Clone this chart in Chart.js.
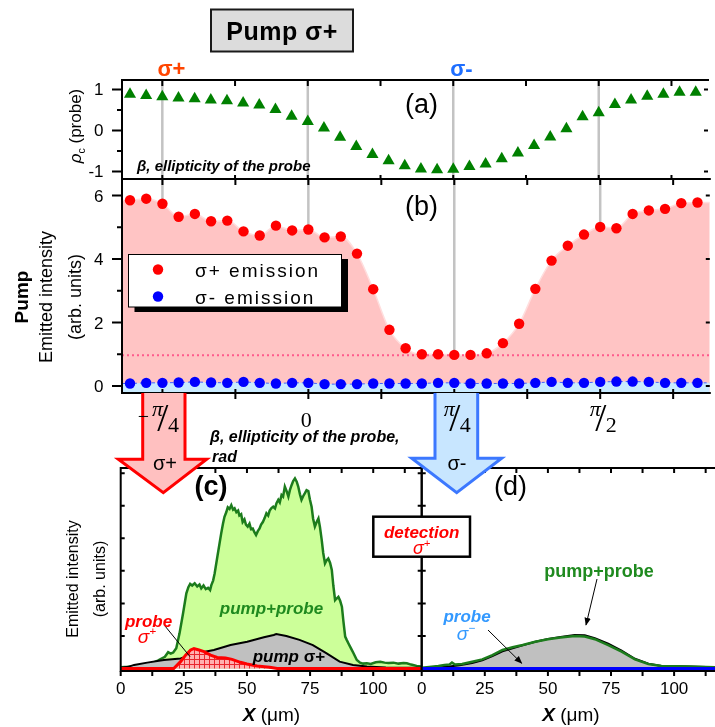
<!DOCTYPE html>
<html>
<head>
<meta charset="utf-8">
<title>Pump σ+</title>
<script src="https://cdn.jsdelivr.net/npm/chart.js@4.4.1/dist/chart.umd.min.js"></script>
<style>
  body { margin: 0; background: #fff; }
  #page { position: relative; width: 715px; height: 727px; overflow: hidden; background: #fff;
    font-family: "Liberation Sans", Arial, sans-serif; color: #000; }
  #page canvas { position: absolute; left: 0; top: 0; }
  #deco { position: absolute; left: 0; top: 0; }
  .t { position: absolute; white-space: nowrap; line-height: 1; transform: translate(-50%, -50%); }
  sup, sub { font-size: 0.62em; line-height: 0; }
</style>
</head>
<body>
<div id="page">
  <canvas id="panel-a" width="715" height="727"></canvas>
  <canvas id="panel-b" width="715" height="727"></canvas>
  <canvas id="panel-c" width="715" height="727"></canvas>
  <canvas id="panel-d" width="715" height="727"></canvas>
  <div id="under"></div>
  <svg id="deco" width="715" height="727"></svg>
  <div id="over"></div>
</div>
<script>
"use strict"

// data

// beta, ellipticity of the probe, in degrees (pi/4 = 45)
const beta = [-55, -50, -45, -40, -35, -30, -25, -20, -15, -10, -5, 0, 5, 10, 15, 20, 25, 30,
  35, 40, 45, 50, 55, 60, 65, 70, 75, 80, 85, 90, 95, 100, 105, 110, 115, 120]

// (a) circular polarisation of the probe
const rhoC = [0.88, 0.85, 0.82, 0.79, 0.77, 0.74, 0.72, 0.67, 0.62, 0.51, 0.345, 0.22, 0.06,
  -0.17, -0.39, -0.59, -0.74, -0.86, -0.94, -0.96, -0.95, -0.88, -0.82, -0.69, -0.55, -0.37,
  -0.16, 0.04, 0.33, 0.43, 0.63, 0.74, 0.83, 0.88, 0.93, 0.93]

// (b) emitted intensity under sigma+ pump
const sigmaPlus = [5.85, 5.9, 5.74, 5.33, 5.42, 5.19, 5.21, 4.87, 4.74, 5.05, 4.9, 4.93, 4.68,
  4.71, 4.17, 3.05, 1.77, 1.19, 1.0, 1.0, 0.98, 0.98, 1.03, 1.35, 1.96, 3.06, 3.95, 4.42, 4.77,
  5.01, 4.97, 5.42, 5.53, 5.58, 5.76, 5.78]
const sigmaMinus = [0.08, 0.1, 0.1, 0.11, 0.13, 0.11, 0.1, 0.13, 0.1, 0.08, 0.1, 0.1, 0.06, 0.06,
  0.06, 0.08, 0.08, 0.08, 0.08, 0.1, 0.1, 0.08, 0.08, 0.08, 0.08, 0.1, 0.13, 0.1, 0.1, 0.13, 0.14,
  0.14, 0.13, 0.1, 0.1, 0.1]
const pumpOnlyLevel = 0.97

// (c) sigma+ detection, [X in um, intensity]
const pumpProbeC = [[0, 0.04], [3, 0.05], [6, 0.07], [9, 0.1], [11, 0.14], [13, 0.18], [14.9, 0.25],
  [16, 0.3], [17.5, 0.36], [18.8, 0.5], [19.8, 0.46], [20.8, 0.49], [22, 0.62], [23.3, 1.08],
  [24.7, 1.7], [26, 2.31], [26.8, 2.5], [27.5, 2.6], [28.3, 2.55], [29.3, 2.62], [30.3, 2.52],
  [31.2, 2.58], [31.9, 2.46], [32.8, 2.55], [33.7, 2.44], [34.6, 2.48], [35.4, 2.41], [35.9, 2.56],
  [36.6, 2.7], [37.2, 2.92], [38.5, 3.54], [39.8, 4.15], [40.5, 4.45], [41.1, 4.66], [41.8, 4.8],
  [42.4, 4.95], [43.1, 4.9], [43.8, 5.02], [44.5, 4.88], [45.1, 4.92], [45.8, 4.8], [46.5, 4.85],
  [47, 4.7], [47.7, 4.74], [48.3, 4.5], [49, 4.58], [49.6, 4.42], [50.3, 4.36], [51, 4.45],
  [51.6, 4.28], [52.3, 4.3], [53, 4.18], [53.6, 4.1], [54.3, 4.22], [55, 4.3], [55.6, 4.42],
  [56.3, 4.5], [57, 4.62], [57.7, 4.77], [58.4, 4.7], [59, 4.85], [59.7, 4.93], [60.4, 4.97],
  [61.1, 4.92], [61.7, 5.08], [62.4, 5.18], [63, 5.1], [63.7, 5.33], [64.3, 5.28], [65, 5.59],
  [65.7, 5.45], [66.4, 5.28], [67, 5.48], [67.7, 5.64], [68.3, 5.76], [69, 5.84], [69.7, 5.74],
  [70.3, 5.59], [71, 5.35], [71.6, 5.18], [72.3, 5.3], [72.9, 5.38], [73.6, 5.48], [74.3, 5.45],
  [74.9, 5.2], [75.6, 4.97], [76.2, 4.6], [76.9, 4.36], [77.6, 4.5], [78.3, 4.61], [78.9, 4.35],
  [79.6, 3.95], [80.2, 3.55], [80.9, 3.23], [81.5, 3.32], [82.2, 3.38], [82.9, 3.25], [83.6, 3.03],
  [84.2, 2.55], [84.9, 2.1], [85.5, 2.15], [86.2, 2.2], [86.9, 2.08], [87.6, 1.9], [88.2, 1.45],
  [88.9, 0.98], [89.5, 0.88], [90.2, 0.77], [91.2, 0.62], [92.2, 0.47], [93.5, 0.26], [94.8, 0.18],
  [96, 0.15], [97.5, 0.16], [99, 0.14], [101, 0.19], [102.8, 0.21], [104.5, 0.18], [106, 0.17],
  [108, 0.18], [110, 0.15], [112, 0.17], [113.3, 0.16], [115, 0.12], [117.2, 0.08], [119, 0.06]]
const pumpC = [[0, 0.02], [3, 0.05], [5.3, 0.11], [10.5, 0.18], [17.1, 0.26], [23.7, 0.31],
  [30.3, 0.47], [36.9, 0.57], [43.5, 0.72], [50.1, 0.82], [56.7, 0.96], [60.6, 1.03], [61.6, 1.06],
  [65.6, 1.0], [70.8, 0.88], [76.1, 0.72], [81.4, 0.47], [86.7, 0.21], [92, 0.11], [97.5, 0.06],
  [105, 0.03], [119, 0.02]]
const probeC = [[0, 0], [21, 0], [23.7, 0.21], [25.7, 0.41], [27.7, 0.57], [29, 0.61], [31, 0.57],
  [33, 0.52], [35.6, 0.41], [38.2, 0.34], [41.5, 0.32], [44.1, 0.28], [47.4, 0.19], [50, 0.14],
  [54, 0.08], [59, 0.04], [62, 0], [119, 0]]

// (d) sigma- detection
const pumpProbeD = [[0, 0.02], [3, 0.05], [6.6, 0.08], [9, 0.11], [11, 0.12], [12, 0.18],
  [13.2, 0.12], [16, 0.14], [20, 0.21], [24, 0.28], [28, 0.41], [32, 0.57], [36, 0.65], [40, 0.72],
  [45, 0.82], [50, 0.9], [55, 0.95], [60.6, 1.0], [64.6, 0.98], [68.6, 0.9], [73.9, 0.72],
  [79.2, 0.52], [84.5, 0.28], [89.8, 0.14], [95, 0.08], [105.7, 0.06], [116.2, 0.04]]
const pumpD = [[0, 0], [5, 0.02], [10, 0.05], [15, 0.1], [20, 0.17], [24, 0.25], [28, 0.38],
  [32, 0.53], [36, 0.62], [40, 0.71], [45, 0.82], [50, 0.91], [55, 0.97], [60.6, 1.03],
  [64.6, 1.02], [68.6, 0.93], [73.9, 0.76], [79.2, 0.55], [84.5, 0.3], [89.8, 0.15], [95, 0.08],
  [105.7, 0.06], [116.2, 0.04]]
const probeD = [[0, 0], [116.2, 0]]

// ticks and labels
const rhoTicks = [1, 0, -1]
const rhoMinor = [0.5, -0.5]
const emTicks = [0, 2, 4, 6]
const emMinor = [1, 3, 5]
const betaTicks = [-45, 0, 45, 90]
const betaTickText = ["−π/4", "0", "π/4", "π/2"]
const betaSteps = [-45, -22.5, 0, 22.5, 45, 67.5, 90, 112.5]
const xTicks = [0, 25, 50, 75, 100]
const xSteps = [0, 12.5, 25, 37.5, 50, 62.5, 75, 87.5, 100, 112.5]
const intSteps = [1, 2, 3, 4, 5, 6]

// axis limits
const betaRange = [-57.47, 123.8]
const rhoRange = [-1.185, 1.229]
const emRange = [-0.22, 6.52]
const xRangeC = [0, 119.2]
const xRangeD = [0, 116.2]
const intRange = [-0.077, 6.16]

// helpers

const toXY = (xs, ys) => xs.map((x, i) => ({ x: x, y: ys[i] }))
const pairs = (list) => list.map((p) => ({ x: p[0], y: p[1] }))

function options(area, xr, yr) {
  return {
    responsive: false,
    animation: false,
    events: [],
    layout: { padding: { left: area[0], top: area[1], right: 715 - area[2], bottom: 727 - area[3] } },
    scales: {
      x: { type: "linear", display: false, min: xr[0], max: xr[1] },
      y: { type: "linear", display: false, min: yr[0], max: yr[1] },
    },
    plugins: { legend: { display: false }, tooltip: { enabled: false } },
  }
}

// frame, tick marks and grey guide lines, drawn from the chart's scales
function framePlugin(spec) {
  return {
    id: "frame",
    beforeDatasetsDraw(chart) {
      if (!spec.guides) return
      const { ctx, chartArea: a, scales } = chart
      ctx.save()
      ctx.strokeStyle = "#c3c3c3"
      ctx.lineWidth = 2.5
      spec.guides.forEach((v) => {
        const x = scales.x.getPixelForValue(v)
        ctx.beginPath()
        ctx.moveTo(x, a.top)
        ctx.lineTo(x, a.bottom)
        ctx.stroke()
      })
      ctx.restore()
    },
    afterDatasetsDraw(chart) {
      const { ctx, chartArea: a, scales } = chart
      ctx.save()
      ctx.strokeStyle = "#000"
      ctx.lineWidth = 2
      ctx.beginPath()
      spec.edges.forEach((e) => {
        if (e === "left") { ctx.moveTo(a.left, a.top - 1); ctx.lineTo(a.left, a.bottom + 1) }
        if (e === "right") { ctx.moveTo(a.right, a.top - 1); ctx.lineTo(a.right, a.bottom + 1) }
        if (e === "top") { ctx.moveTo(a.left - 1, a.top); ctx.lineTo(a.right + 1, a.top) }
        if (e === "bottom") { ctx.moveTo(a.left - 1, a.bottom); ctx.lineTo(a.right + 1, a.bottom) }
      })
      ctx.stroke()
      spec.ticks.forEach((t) => {
        ctx.lineWidth = t.w || 2
        ctx.beginPath()
        t.at.forEach((v) => {
          if (t.side === "left" || t.side === "right") {
            const y = scales.y.getPixelForValue(v)
            const x = t.side === "left" ? a.left : a.right
            const s = t.side === "left" ? 1 : -1
            ctx.moveTo(x - s * t.outer, y)
            ctx.lineTo(x + s * t.inner, y)
          } else {
            const x = scales.x.getPixelForValue(v)
            const y = t.side === "top" ? a.top : a.bottom
            const s = t.side === "top" ? 1 : -1
            ctx.moveTo(x, y - s * t.outer)
            ctx.lineTo(x, y + s * t.inner)
          }
        })
        ctx.stroke()
      })
      ctx.restore()
    },
  }
}

function makeHatch() {
  const c = document.createElement("canvas")
  c.width = 5
  c.height = 5
  const g = c.getContext("2d")
  g.fillStyle = "#ffb0b0"
  g.fillRect(0, 0, 5, 5)
  g.fillStyle = "#e8262e"
  g.fillRect(0, 4, 5, 1)
  g.fillRect(4, 0, 1, 5)
  return g.createPattern(c, "repeat")
}

// (a) rho_c of the probe
const chartA = new Chart(document.getElementById("panel-a"), {
  type: "scatter",
  data: {
    datasets: [
      {
        data: toXY(beta, rhoC),
        pointStyle: "triangle",
        pointRadius: 7,
        backgroundColor: "#008000",
        borderWidth: 0,
      },
    ],
  },
  options: options([122, 80, 715, 179], betaRange, rhoRange),
  plugins: [
    framePlugin({
      guides: betaTicks,
      edges: ["left", "top", "bottom"],
      ticks: [
        { side: "left", at: rhoTicks, outer: 10, inner: 0 },
        { side: "left", at: rhoMinor, outer: 5, inner: 0 },
        { side: "right", at: rhoTicks, outer: 0, inner: 4 },
        { side: "top", at: betaSteps, outer: 0, inner: 6 },
        { side: "bottom", at: betaSteps, outer: 0, inner: 4 },
      ],
    }),
  ],
})

// (b) emitted intensity
const redCurve = [{ x: betaRange[0], y: sigmaPlus[0] }, ...toXY(beta, sigmaPlus),
  { x: betaRange[1], y: sigmaPlus[sigmaPlus.length - 1] }]
const blueCurve = [{ x: betaRange[0], y: sigmaMinus[0] }, ...toXY(beta, sigmaMinus),
  { x: betaRange[1], y: sigmaMinus[sigmaMinus.length - 1] }]

const chartB = new Chart(document.getElementById("panel-b"), {
  type: "scatter",
  data: {
    datasets: [
      {
        type: "line",
        data: redCurve,
        borderColor: "#ffdede",
        borderWidth: 1.5,
        backgroundColor: "#ffc4c4",
        fill: "start",
        pointRadius: 0,
        cubicInterpolationMode: "monotone",
        order: 6,
      },
      {
        type: "line",
        data: blueCurve,
        borderColor: "#4060ff",
        borderWidth: 1,
        borderDash: [3, 3],
        backgroundColor: "#c8ebff",
        fill: "start",
        pointRadius: 0,
        order: 5,
      },
      {
        type: "line",
        data: [{ x: betaRange[0], y: pumpOnlyLevel }, { x: betaRange[1], y: pumpOnlyLevel }],
        borderColor: "#ff5a8c",
        borderWidth: 2,
        borderDash: [2, 3],
        pointRadius: 0,
        fill: false,
        order: 4,
      },
      { data: toXY(beta, sigmaPlus), pointRadius: 5.2, backgroundColor: "#ff0000", borderWidth: 0, order: 2 },
      { data: toXY(beta, sigmaMinus), pointRadius: 5.2, backgroundColor: "#0000ff", borderWidth: 0, order: 1 },
    ],
  },
  options: options([122, 179, 715, 393], betaRange, emRange),
  plugins: [
    framePlugin({
      guides: betaTicks,
      edges: ["left", "top", "bottom"],
      ticks: [
        { side: "left", at: emTicks, outer: 10, inner: 0 },
        { side: "left", at: emMinor, outer: 5, inner: 0 },
        { side: "right", at: emTicks, outer: 0, inner: 4 },
        { side: "top", at: betaSteps, outer: 0, inner: 6 },
        { side: "bottom", at: betaSteps, outer: 6, inner: 4 },
      ],
    }),
  ],
})

// (c) spatial profiles, sigma+ detection
const chartC = new Chart(document.getElementById("panel-c"), {
  type: "scatter",
  data: {
    datasets: [
      {
        type: "line",
        data: pairs(pumpProbeC),
        borderColor: "#1c7c1c",
        borderWidth: 2.5,
        backgroundColor: "#ccff99",
        fill: "origin",
        pointRadius: 0,
        order: 3,
      },
      {
        type: "line",
        data: pairs(pumpC),
        borderColor: "#000",
        borderWidth: 2,
        backgroundColor: "#c0c0c0",
        fill: "origin",
        pointRadius: 0,
        order: 2,
      },
      {
        type: "line",
        data: pairs(probeC),
        borderColor: "#ff0000",
        borderWidth: 3,
        backgroundColor: makeHatch(),
        fill: "origin",
        pointRadius: 0,
        order: 1,
      },
    ],
  },
  options: options([120.7, 468, 421.7, 671], xRangeC, intRange),
  plugins: [
    framePlugin({
      edges: ["left", "top", "bottom", "right"],
      ticks: [
        { side: "left", at: intSteps, outer: 0, inner: 4 },
        { side: "right", at: intSteps, outer: 0, inner: 4 },
        { side: "top", at: xSteps.slice(1), outer: 0, inner: 5 },
        { side: "bottom", at: xSteps, outer: 5, inner: 0 },
      ],
    }),
  ],
})

// (d) spatial profiles, sigma- detection
const chartD = new Chart(document.getElementById("panel-d"), {
  type: "scatter",
  data: {
    datasets: [
      {
        type: "line",
        data: pairs(pumpD),
        borderColor: "#000",
        borderWidth: 2,
        backgroundColor: "#c0c0c0",
        fill: "origin",
        pointRadius: 0,
        order: 3,
      },
      {
        type: "line",
        data: pairs(pumpProbeD),
        borderColor: "#1c7c1c",
        borderWidth: 2.5,
        fill: false,
        pointRadius: 0,
        order: 2,
      },
      {
        type: "line",
        data: pairs(probeD),
        borderColor: "#0000ff",
        borderWidth: 3,
        fill: false,
        pointRadius: 0,
        order: 1,
      },
    ],
  },
  options: options([421.7, 468, 715, 671], xRangeD, intRange),
  plugins: [
    framePlugin({
      edges: ["left", "top", "bottom"],
      ticks: [
        { side: "left", at: intSteps, outer: 0, inner: 4 },
        { side: "top", at: xSteps.slice(1), outer: 0, inner: 5 },
        { side: "bottom", at: xSteps, outer: 5, inner: 0 },
      ],
    }),
  ],
})

// text

const under = document.getElementById("under")
const over = document.getElementById("over")
const sans = "'Liberation Sans', Arial, sans-serif"
const serif = "'Liberation Serif', 'Times New Roman', serif"
const font = (px, style, fam) => (style ? style + " " : "") + px + "px/1 " + (fam || sans)
const LEFT = "translate(0, -50%)"
const RIGHT = "translate(-100%, -50%)"
const ROT = "translate(-50%, -50%) rotate(-90deg)"

function put(html, x, y, css, box) {
  const d = document.createElement("div")
  d.className = "t"
  d.innerHTML = html
  d.style.left = x + "px"
  d.style.top = y + "px"
  Object.assign(d.style, css || {})
  ;(box || over).appendChild(d)
  return d
}

// tick labels placed through the scales
rhoTicks.forEach((v) => put(String(v), 103.5, chartA.scales.y.getPixelForValue(v), { font: font(17), transform: RIGHT }))
emTicks.forEach((v) => put(String(v), 103.5, chartB.scales.y.getPixelForValue(v), { font: font(17), transform: RIGHT }))
xTicks.forEach((v) => {
  put(String(v), chartC.scales.x.getPixelForValue(v), 687.5, { font: font(17) })
  put(String(v), chartD.scales.x.getPixelForValue(v), 687.5, { font: font(17) })
})
betaTickText.forEach((t, i) => {
  const x0 = chartB.scales.x.getPixelForValue(betaTicks[i])
  if (t.indexOf("/") < 0) {
    put(t, x0 - 2, 420, { font: font(22, "", serif) })
    return
  }
  const parts = t.replace("−", "").split("/")
  if (t.startsWith("−")) put("−", x0 - 19, 416, { font: font(20, "", serif) })
  put(parts[0], x0 - 5, 408.6, { font: font(22, "italic", serif) })
  put("/", x0 + 0.5, 417.5, { font: font(40, "", serif) })
  put(parts[1], x0 + 11, 425, { font: font(22, "", serif) })
})

// axis titles
put("<i>ρ</i><sub>c</sub> (probe)", 75, 126, { font: font(17), transform: ROT })
put("Pump", 21, 296.5, { font: font(19, "bold"), transform: ROT })
put("Emitted intensity", 45.5, 296.5, { font: font(18), transform: ROT })
put("(arb. units)", 75, 297, { font: font(18), transform: ROT })
put("β, ellipticity of the probe,", 210, 436.5, { font: font(16, "italic bold"), transform: LEFT }, under)
put("rad", 212, 457, { font: font(16, "italic bold"), transform: LEFT }, under)
put("Emitted intensity", 72.5, 579, { font: font(16), transform: ROT })
put("(arb. units)", 99.5, 579, { font: font(16), transform: ROT })
put("<b><i>X</i></b> (μm)", 271.5, 713.5, { font: font(19) })
put("<b><i>X</i></b> (μm)", 571, 713.5, { font: font(19) })

// shapes: title box, legend, arrows, detection box, leaders
document.getElementById("deco").innerHTML = `
<defs>
  <marker id="head" viewBox="0 0 10 10" refX="9" refY="5" markerWidth="8" markerHeight="8" orient="auto">
    <path d="M0,1 L10,5 L0,9 z" fill="#000"/>
  </marker>
</defs>
<rect x="211" y="9.5" width="142" height="42" fill="#dcdcdc" stroke="#1a1a1a" stroke-width="2"/>
<rect x="134.5" y="259" width="213.5" height="53" fill="#000"/>
<rect x="128.5" y="254.5" width="213" height="52.5" fill="#fff" stroke="#000" stroke-width="1"/>
<circle cx="158" cy="269.5" r="5.2" fill="#ff0000"/>
<circle cx="158" cy="296.5" r="5.2" fill="#0000ff"/>
<polygon points="142.7,393 185,393 185,459.3 206.7,459.3 163.3,492.7 118.3,459.3 142.7,459.3" fill="#ffc0c0"/>
<polyline points="142.7,393 142.7,459.3 118.3,459.3 163.3,492.7 206.7,459.3 185,459.3 185,393"
  fill="none" stroke="#ff0000" stroke-width="3"/>
<polygon points="435,393 477.7,393 477.7,458.3 501.7,458.3 456.7,492.7 411.7,458.3 435,458.3" fill="#c8e6ff"/>
<polyline points="435,393 435,458.3 411.7,458.3 456.7,492.7 501.7,458.3 477.7,458.3 477.7,393"
  fill="none" stroke="#3c78ff" stroke-width="3"/>
<rect x="373.3" y="516.7" width="96.7" height="40" fill="#fff" stroke="#000" stroke-width="2.5"/>
<line x1="165" y1="626" x2="190" y2="656.7" stroke="#000" stroke-width="1"/>
<line x1="597" y1="579" x2="586" y2="625" stroke="#000" stroke-width="1" marker-end="url(#head)"/>
<line x1="488" y1="630" x2="521.7" y2="663.3" stroke="#000" stroke-width="1" marker-end="url(#head)"/>
`

// annotations
put("Pump σ+", 282, 30.5, { font: font(25, "bold"), letterSpacing: "0.5px" })
put("σ+", 171.5, 69, { font: font(22, "bold"), color: "#ff4500" })
put("σ-", 461.5, 69, { font: font(22, "bold"), color: "#1e6eff" })
put("(a)", 421.5, 104, { font: font(27) })
put("(b)", 421.5, 205.5, { font: font(27) })
put("β, ellipticity of the probe", 137, 164.5, { font: font(15, "italic bold"), transform: LEFT })
put("σ+ emission", 195, 269.5, { font: font(19), letterSpacing: "2px", transform: LEFT })
put("σ- emission", 195, 296.5, { font: font(19), letterSpacing: "2px", transform: LEFT })
put("σ+", 165, 463, { font: font(20) })
put("σ-", 457, 463, { font: font(20) })
put("(c)", 211, 486, { font: font(27, "bold") })
put("(d)", 510.5, 486, { font: font(27) })
put("detection", 421.7, 531.5, { font: font(17, "italic bold"), color: "#ff0000" })
put("σ<sup>+</sup>", 421.7, 547.5, { font: font(18, "italic"), color: "#ff0000" })
put("pump+probe", 271.5, 607.5, { font: font(17, "italic bold"), color: "#1f8a1f" })
put("probe", 148.5, 620.5, { font: font(17, "italic bold"), color: "#ff0000" })
put("σ<sup>+</sup>", 147, 636, { font: font(19, "italic"), color: "#ff0000" })
put("<i>pump</i> σ+", 289, 656, { font: font(17, "bold") })
put("pump+probe", 599, 571, { font: font(18, "bold"), color: "#1f8a1f" })
put("probe", 467, 616, { font: font(17, "italic bold"), color: "#3399ff" })
put("σ<sup>−</sup>", 466, 633, { font: font(19, "italic"), color: "#3399ff" })
</script>
</body>
</html>
